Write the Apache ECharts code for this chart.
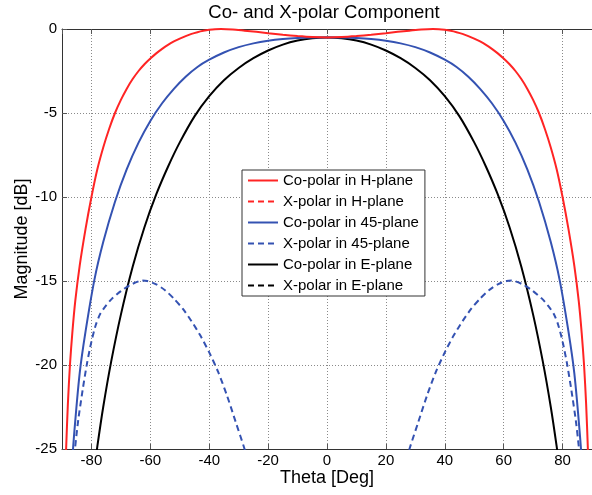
<!DOCTYPE html>
<html>
<head>
<meta charset="utf-8">
<script src="https://cdn.jsdelivr.net/npm/echarts@6/dist/echarts.min.js"></script>
<style>
  html, body { margin: 0; padding: 0; background: #fff; }
  #chart { width: 592px; height: 495px; }
</style>
</head>
<body>
<div id="chart"></div>
<script>
// Radiation pattern cuts: angle (deg) and magnitude (dB)
const titleText = 'Co- and X-polar Component';
const xName = 'Theta [Deg]';
const yName = 'Magnitude [dB]';
const seriesNames = [
  'Co-polar in H-plane', 'X-polar in H-plane',
  'Co-polar in 45-plane', 'X-polar in 45-plane',
  'Co-polar in E-plane', 'X-polar in E-plane'
];

// Co-polar, H-plane
const thetaCoH = [-89.2, -88.6, -88, -87.3, -86.5, -85.5, -84, -82, -80, -78, -76, -74, -72, -70, -68, -66, -64, -62, -60, -58, -56, -54, -52, -50, -48, -46, -44, -42, -40, -38, -36, -32, -28, -24, -20, -15, -10, -5, 0,
                  5, 10, 15, 20, 24, 28, 32, 36, 38, 40, 42, 44, 46, 48, 50, 52, 54, 56, 58, 60, 62, 64, 66, 68, 70, 72, 74, 76, 78, 80, 82, 84, 85.5, 86.5, 87.3, 88, 88.6, 89.2];
const magCoH = [-28.5, -25, -22.3, -20, -18.1, -16.2, -14.1, -11.9, -10, -8.35, -7.05, -5.95, -5, -4.22, -3.55, -2.98, -2.5, -2.1, -1.76, -1.45, -1.18, -0.94, -0.74, -0.57, -0.42, -0.29, -0.19, -0.11, -0.05, -0.01, 0, -0.03, -0.1, -0.17, -0.25, -0.34, -0.42, -0.48, -0.5,
                -0.48, -0.42, -0.34, -0.25, -0.17, -0.1, -0.03, 0, -0.01, -0.05, -0.11, -0.19, -0.29, -0.42, -0.57, -0.74, -0.94, -1.18, -1.45, -1.76, -2.1, -2.5, -2.98, -3.55, -4.22, -5, -5.95, -7.05, -8.35, -10, -11.9, -14.1, -16.2, -18.1, -20, -22.3, -25, -28.5];

// Co-polar, 45-plane
const thetaCo45 = [-87, -86, -84, -82, -79, -76, -72, -68, -64, -60, -56, -52, -48, -44, -40, -35, -30, -25, -20, -15, -10, -5, 0,
                   5, 10, 15, 20, 25, 30, 35, 40, 44, 48, 52, 56, 60, 64, 68, 72, 76, 79, 82, 84, 86, 87];
const magCo45 = [-27, -24.4, -20.5, -18, -14.93, -12.68, -10.28, -8.34, -6.76, -5.47, -4.42, -3.56, -2.84, -2.26, -1.83, -1.4, -1.08, -0.855, -0.7, -0.6, -0.54, -0.51, -0.5,
                 -0.51, -0.54, -0.6, -0.7, -0.855, -1.08, -1.4, -1.83, -2.26, -2.84, -3.56, -4.42, -5.47, -6.76, -8.34, -10.28, -12.68, -14.93, -18, -20.5, -24.4, -27];

// X-polar, 45-plane (two lobes, gap below the floor around broadside)
const thetaX45 = [-86.5, -85.6, -84.5, -83, -81.5, -80, -78.5, -77, -75, -73, -70, -67, -64, -62.7, -61, -58, -55, -52, -49, -46, -43, -40, -37, -34, -31, -28, -26, 0,
                  26, 28, 31, 34, 37, 40, 43, 46, 49, 52, 55, 58, 61, 62.7, 64, 67, 70, 73, 75, 77, 78.5, 80, 81.5, 83, 84.5, 85.6, 86.5];
const magX45 = [-26.6, -25, -23.3, -21.5, -19.9, -18.6, -17.6, -16.95, -16.45, -16.05, -15.6, -15.25, -15.02, -14.97, -15, -15.2, -15.55, -16.05, -16.65, -17.4, -18.25, -19.25, -20.4, -21.8, -23.4, -25, -26.2, null,
                -26.2, -25, -23.4, -21.8, -20.4, -19.25, -18.25, -17.4, -16.65, -16.05, -15.55, -15.2, -15, -14.97, -15.02, -15.25, -15.6, -16.05, -16.45, -16.95, -17.6, -18.6, -19.9, -21.5, -23.3, -25, -26.6];

// Co-polar, E-plane
const thetaCoE = [-79, -78, -76, -73.3, -70, -66, -62, -58, -54, -50, -45, -40, -35, -30, -25, -20, -15, -10, -5, 0,
                  5, 10, 15, 20, 25, 30, 35, 40, 45, 50, 54, 58, 62, 66, 70, 73.3, 76, 78, 79];
const magCoE = [-26.2, -24.85, -22.5, -19.8, -17, -14.15, -11.8, -9.85, -8.2, -6.75, -5.2, -4, -3.05, -2.32, -1.74, -1.28, -0.93, -0.69, -0.55, -0.5,
                -0.55, -0.69, -0.93, -1.28, -1.74, -2.32, -3.05, -4, -5.2, -6.75, -8.2, -9.85, -11.8, -14.15, -17, -19.8, -22.5, -24.85, -26.2];

// X-polar in H- and E-plane stay below the plotted floor
const thetaXH = [];
const magXH = [];
const thetaXE = [];
const magXE = [];

function pairs(xs, ys) {
  return xs.map((x, i) => [x, ys[i]]);
}

const colors = ['#ff2424', '#ff2424', '#3452b2', '#3452b2', '#000000', '#000000'];
const dashes = ['solid', [6, 4], 'solid', [6, 4], 'solid', [6, 4]];
const dataSets = [
  pairs(thetaCoH, magCoH), pairs(thetaXH, magXH),
  pairs(thetaCo45, magCo45), pairs(thetaX45, magX45),
  pairs(thetaCoE, magCoE), pairs(thetaXE, magXE)
];

const FONT = 'Liberation Sans, Arial, Helvetica, sans-serif';
const gridLine = { show: true, lineStyle: { color: '#8a8a8a', type: [1, 2], width: 1 } };
const axisLine = { show: true, onZero: false, lineStyle: { color: '#333', width: 1 } };
const tick = { show: true, inside: true, length: 5, lineStyle: { color: '#555' } };

const chart = echarts.init(document.getElementById('chart'), null, { renderer: 'canvas' });
chart.setOption({
  animation: false,
  backgroundColor: '#fff',
  graphic: [{
    type: 'text',
    x: 324, y: 13,
    style: { text: titleText, font: '18.5px ' + FONT, fill: '#000', textAlign: 'center', textVerticalAlign: 'middle' }
  }],
  grid: { left: 62, top: 29, width: 538, height: 420, containLabel: false },
  legend: {
    orient: 'vertical',
    left: 242, top: 170,
    width: 186,
    padding: [3, 6, 3, 5],
    itemWidth: 30, itemHeight: 14, itemGap: 6,
    backgroundColor: '#fff',
    borderColor: '#333', borderWidth: 1,
    // line-only keys: hide the marker drawn on each key line
    itemStyle: { color: 'rgba(0,0,0,0)', borderWidth: 0, opacity: 0 },
    textStyle: { fontFamily: FONT, fontSize: 15, color: '#000', lineHeight: 14 },
    data: seriesNames
  },
  xAxis: [{
    type: 'value', min: -90, max: 90, splitNumber: 9,
    name: xName, nameLocation: 'middle', nameGap: 20, nameMoveOverlap: false,
    nameTextStyle: { fontFamily: FONT, fontSize: 18, color: '#000' },
    axisLine: axisLine, axisTick: tick, splitLine: gridLine,
    axisLabel: { fontFamily: FONT, fontSize: 15, color: '#000', margin: 4, showMinLabel: false, showMaxLabel: false }
  }, {
    type: 'value', min: -90, max: 90, splitNumber: 9, position: 'top',
    axisLine: axisLine, axisTick: tick, splitLine: { show: false }, axisLabel: { show: false }
  }],
  yAxis: [{
    type: 'value', min: -25, max: 0, interval: 5,
    name: yName, nameLocation: 'middle', nameGap: 31, nameMoveOverlap: false,
    nameTextStyle: { fontFamily: FONT, fontSize: 18, color: '#000' },
    axisLine: axisLine, axisTick: tick, splitLine: gridLine,
    axisLabel: { fontFamily: FONT, fontSize: 15, color: '#000', margin: 5 }
  }],
  series: seriesNames.map((name, i) => ({
    name: name,
    type: 'line',
    data: dataSets[i],
    xAxisIndex: 0, yAxisIndex: 0,
    showSymbol: false, symbol: 'none',
    smooth: 0.25,
    connectNulls: false,
    clip: true,
    color: colors[i],
    lineStyle: { color: colors[i], width: 2, type: dashes[i] },
    z: 10 - i
  }))
});
</script>
</body>
</html>
